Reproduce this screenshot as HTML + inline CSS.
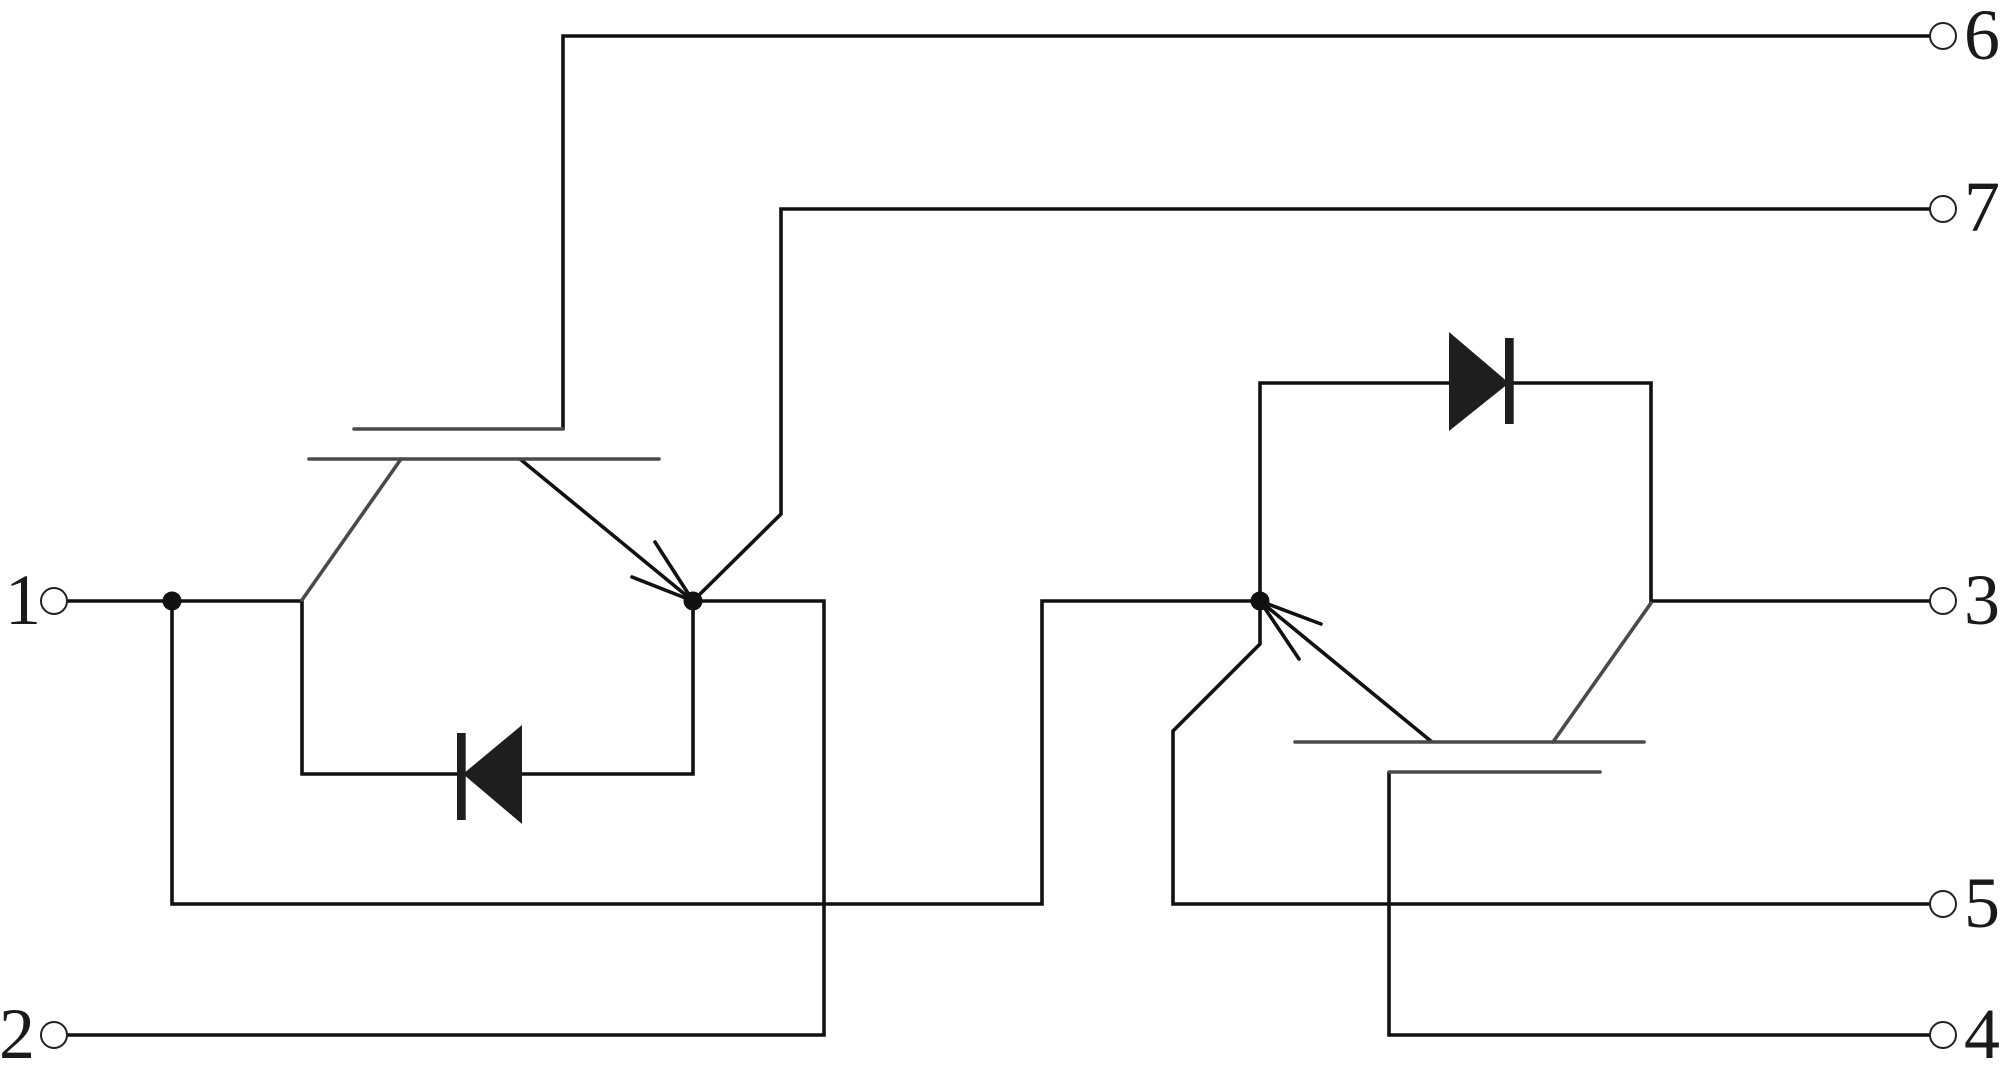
<!DOCTYPE html>
<html>
<head>
<meta charset="utf-8">
<style>
html,body{margin:0;padding:0;background:#fff;}
svg{display:block;}
text{font-family:"Liberation Serif",serif;font-size:72px;fill:#1a1a1a;}
</style>
</head>
<body>
<svg width="2000" height="1080" viewBox="0 0 2000 1080" xmlns="http://www.w3.org/2000/svg">
<g fill="none" stroke="#111" stroke-width="3.6" stroke-linejoin="miter">
  <!-- line 6 -->
  <path d="M563,430 V36 H1930"/>
  <!-- line 7 -->
  <path d="M693,601 L781,514 V209 H1930"/>
  <!-- left IGBT emitter diagonal -->
  <path d="M520,459 L693,601"/>
  <!-- main line from terminal 1 -->
  <path d="M67,601 H302"/>
  <!-- left diode box -->
  <path d="M302,600 V774 H693 V601"/>
  <!-- emitter to terminal 2 -->
  <path d="M693,601 H824 V1035 H67"/>
  <!-- junction to right IGBT -->
  <path d="M172,601 V904 H1042 V601 H1260"/>
  <!-- right diode loop and terminal 3 -->
  <path d="M1260,601 V383 H1651 V601 H1930"/>
  <!-- right IGBT emitter diagonal -->
  <path d="M1260,601 L1432,742"/>
  <!-- aux emitter to terminal 5 -->
  <path d="M1260,601 V644 L1173,731 V904 H1930"/>
  <!-- gate to terminal 4 -->
  <path d="M1389,772 V1035 H1930"/>
</g>
<g fill="none" stroke="#111" stroke-width="3.6" stroke-linecap="round">
  <!-- arrows -->
  <path d="M655,542 L693,601"/>
  <path d="M632,577 L693,601"/>
  <path d="M1321,624 L1260,601"/>
  <path d="M1299,659 L1260,601"/>
</g>
<g fill="none" stroke="#4a4a4a" stroke-width="3.6" stroke-linecap="round">
  <!-- left gate bar -->
  <path d="M354,429 H563"/>
  <!-- left collector bar -->
  <path d="M309,459 H659"/>
  <!-- left collector diagonal -->
  <path d="M401,459 L302,600"/>
  <!-- right collector bar -->
  <path d="M1295,742 H1644"/>
  <!-- right collector diagonal -->
  <path d="M1553,742 L1651,603"/>
  <!-- right gate bar -->
  <path d="M1389,772 H1600"/>
</g>
<!-- diodes -->
<g fill="#1e1e1e">
  <rect x="457" y="733" width="8.7" height="87"/>
  <polygon points="463,774 522,725 522,824"/>
  <polygon points="1449,332 1449,431 1509,383"/>
  <rect x="1505" y="338" width="8.7" height="86"/>
</g>
<!-- junction dots -->
<g fill="#111">
  <circle cx="172" cy="601" r="9.5"/>
  <circle cx="693" cy="601" r="9.5"/>
  <circle cx="1260" cy="601" r="9.5"/>
</g>
<!-- terminals -->
<g fill="#fff" stroke="#222" stroke-width="2">
  <circle cx="54" cy="601" r="13"/>
  <circle cx="54" cy="1035" r="13"/>
  <circle cx="1943" cy="36" r="13"/>
  <circle cx="1943" cy="209" r="13"/>
  <circle cx="1943" cy="601" r="13"/>
  <circle cx="1943" cy="904" r="13"/>
  <circle cx="1943" cy="1035" r="13"/>
</g>
<text x="5" y="624">1</text>
<text x="-1" y="1058">2</text>
<text x="1964" y="59">6</text>
<text x="1964" y="231">7</text>
<text x="1964" y="624">3</text>
<text x="1964" y="927">5</text>
<text x="1964" y="1058">4</text>
</svg>
</body>
</html>
